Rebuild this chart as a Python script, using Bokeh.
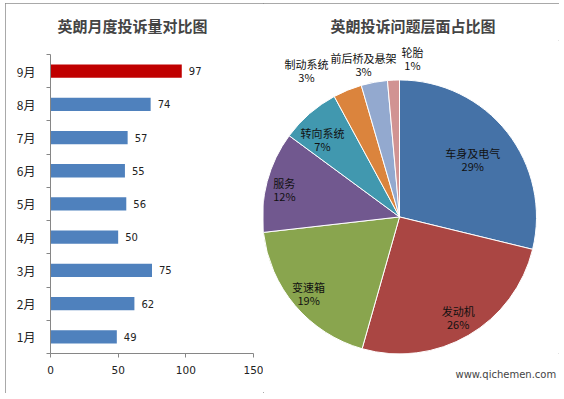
import math
from bokeh.plotting import figure
from bokeh.models import Range1d, FixedTicker, Title
from bokeh.layouts import row
from bokeh.core.properties import value
from bokeh.embed import file_html
from bokeh.resources import INLINE

# ---------------- data ----------------
months = ["1月", "2月", "3月", "4月", "5月", "6月", "7月", "8月", "9月"]
complaints = [49, 62, 75, 50, 56, 55, 57, 74, 97]
x_ticks = [0, 50, 100, 150]

issue_names = ["车身及电气", "发动机", "变速箱", "服务", "转向系统", "制动系统", "前后桥及悬架", "轮胎"]
issue_share = [28.8, 25.6, 18.8, 11.9, 7.0, 3.4, 3.1, 1.4]

title_left = "英朗月度投诉量对比图"
title_right = "英朗投诉问题层面占比图"
watermark = "www.qichemen.com"

# ---------------- styles ----------------
CJK = "Noto Sans CJK SC"
AXIS_GRAY = "#868686"
BAR_BLUE = "#4F81BD"
BAR_RED = "#C00000"
pie_colors = ["#4572A7", "#AA4643", "#89A54E", "#71588F", "#4198AF", "#DB843D", "#93A9CF", "#D19392"]

TOP = 37      # border above the (shared) frame
BOTTOM = 39   # border below the frame
FRAME_H = 390 - TOP - BOTTOM
CAT_PX = 300 / len(months)          # pixel height of one category band
extra_top = (FRAME_H - 300) / CAT_PX  # extra headroom above the last band

# ---------------- left: bar chart ----------------
pos = list(range(1, len(months) + 1))
bar_colors = [BAR_BLUE] * (len(months) - 1) + [BAR_RED]

p1 = figure(width=258, height=390, x_range=Range1d(0, 150),
            y_range=Range1d(0.5, len(months) + 0.5 + extra_top),
            output_backend="svg", toolbar_location=None,
            min_border_left=45, min_border_right=10,
            min_border_top=TOP, min_border_bottom=BOTTOM)
p1.title.text = title_left
p1.title.text_font = CJK
p1.title.text_font_size = "15px"
p1.title.text_font_style = "bold"
p1.title.align = "left"
p1.title.offset = 7
p1.title.standoff = 10
p1.outline_line_color = None
p1.grid.visible = False

p1.hbar(y=pos, left=0, right=complaints, height=0.4, fill_color=bar_colors, line_color=None)
p1.text(x=complaints, y=pos, text=[str(v) for v in complaints], x_offset=7,
        text_baseline="middle", text_align="left", text_font_size="10px",
        text_font=value("DejaVu Sans"), text_color="#222222")

xa = p1.xaxis[0]
xa.ticker = FixedTicker(ticks=x_ticks)
xa.bounds = (x_ticks[0], x_ticks[-1])
xa.axis_line_color = AXIS_GRAY
xa.major_tick_line_color = AXIS_GRAY
xa.minor_tick_line_color = None
xa.major_tick_out = 4
xa.major_tick_in = 0
xa.major_label_standoff = 8
xa.major_label_text_font = "DejaVu Sans"
xa.major_label_text_font_size = "10.5px"
xa.major_label_text_color = "#222222"

ya = p1.yaxis[0]
ya.ticker = FixedTicker(ticks=pos, minor_ticks=[p - 0.5 for p in pos] + [len(pos) + 0.5])
ya.bounds = (0.5, len(pos) + 0.5)
ya.axis_line_color = AXIS_GRAY
ya.major_tick_line_color = None
ya.major_tick_out = 0
ya.major_tick_in = 0
ya.minor_tick_line_color = AXIS_GRAY
ya.minor_tick_out = 4
ya.minor_tick_in = 0
ya.major_label_standoff = 11
ya.major_label_overrides = {p: m for p, m in zip(pos, months)}
ya.major_label_text_font = CJK
ya.major_label_text_font_size = "12px"
ya.major_label_text_color = "#222222"

# ---------------- right: pie chart ----------------
R = 137
P2_W = 296
cx_from_left = 136   # pie centre, px from the left of the right panel
cy_from_bottom = 137  # pie centre, px above the frame bottom
p2 = figure(width=P2_W, height=390,
            x_range=Range1d(-cx_from_left, P2_W - cx_from_left),
            y_range=Range1d(-cy_from_bottom, FRAME_H - cy_from_bottom),
            x_axis_type=None, y_axis_type=None, output_backend="svg",
            toolbar_location=None, min_border_left=0, min_border_right=0,
            min_border_top=TOP, min_border_bottom=BOTTOM)
p2.title.text = title_right
p2.title.text_font = CJK
p2.title.text_font_size = "15px"
p2.title.text_font_style = "bold"
p2.title.align = "left"
p2.title.offset = 67
p2.title.standoff = 10
p2.outline_line_color = None
p2.grid.visible = False

total = sum(issue_share)
starts, ends, mids = [], [], []
acc = 0.0
for v in issue_share:
    a0 = acc / total
    acc += v
    a1 = acc / total
    starts.append(math.pi / 2 - 2 * math.pi * a0)
    ends.append(math.pi / 2 - 2 * math.pi * a1)
    mids.append(math.pi / 2 - 2 * math.pi * (a0 + a1) / 2)

p2.wedge(x=0, y=0, radius=R, start_angle=starts, end_angle=ends, direction="clock",
         fill_color=pie_colors, line_color="white", line_width=1)

label_r = [0.68, 0.85, 0.87, 0.87, 0.79, 1.27, 1.146, 1.17]
label_dx = [0, 0, 0, 0, -6, -27, -7, 20]
label_dy = [0, 0, 0, 3, 4, 14, 1, 1]
lx = [R * f * math.cos(m) for f, m in zip(label_r, mids)]
ly = [R * f * math.sin(m) for f, m in zip(label_r, mids)]
pct = [f"{round(v / total * 100)}%" for v in issue_share]

p2.text(x=lx, y=ly, text=issue_names, x_offset=label_dx, y_offset=[d - 6.5 for d in label_dy],
        text_align="center", text_baseline="middle", text_font=value(CJK),
        text_font_size="11px", text_color="#111111")
p2.text(x=lx, y=ly, text=pct, x_offset=label_dx, y_offset=[d + 6.5 for d in label_dy],
        text_align="center", text_baseline="middle", text_font=value(CJK),
        text_font_size="11px", text_color="#111111")

p2.add_layout(Title(text=watermark, align="left", offset=192, standoff=27,
                    text_font="DejaVu Sans", text_font_size="10px",
                    text_font_style="normal", text_color="#444444"), "below")

layout = row(p1, p2, styles={"margin-left": "5px", "margin-top": "3px",
                             "outline": "1px solid #8c8c8c", "outline-offset": "-1px"})

with open("out.html", "w") as f:
    f.write(file_html(layout, INLINE))
